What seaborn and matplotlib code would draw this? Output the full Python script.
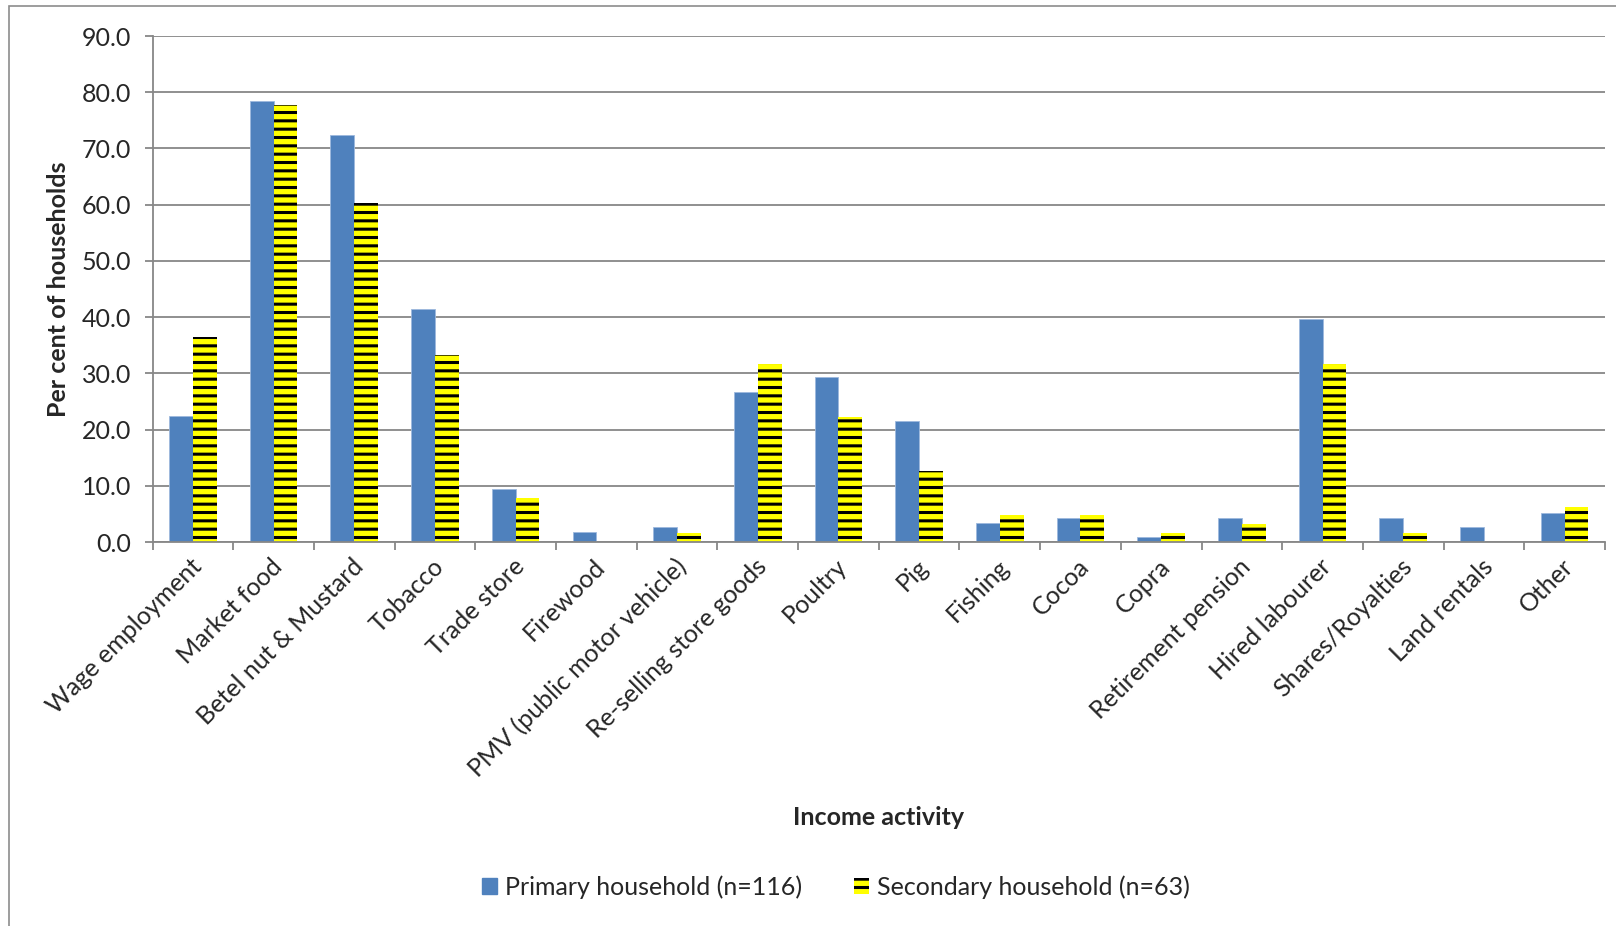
import matplotlib
matplotlib.use("Agg")
import matplotlib.pyplot as plt
import matplotlib.patches as mpatches
import matplotlib.transforms as mtrans
import seaborn as sns
import pandas as pd

categories = ["Wage employment", "Market food", "Betel nut & Mustard", "Tobacco",
              "Trade store", "Firewood", "PMV (public motor vehicle)",
              "Re-selling store goods", "Poultry", "Pig", "Fishing", "Cocoa",
              "Copra", "Retirement pension", "Hired labourer", "Shares/Royalties",
              "Land rentals", "Other"]
primary = [22.4, 78.4, 72.4, 41.4, 9.5, 1.7, 2.6, 26.7, 29.3, 21.6, 3.4, 4.3,
           0.9, 4.3, 39.7, 4.3, 2.6, 5.2]
secondary = [36.5, 77.8, 60.3, 33.3, 7.9, 0.0, 1.6, 31.7, 22.2, 12.7, 4.8, 4.8,
             1.6, 3.2, 31.7, 1.6, 0.0, 6.3]
series_names = ["Primary household (n=116)", "Secondary household (n=63)"]
y_ticks = [0, 10, 20, 30, 40, 50, 60, 70, 80, 90]

df = pd.DataFrame({
    "activity": categories * 2,
    "value": primary + secondary,
    "series": [series_names[0]] * len(categories) + [series_names[1]] * len(categories),
})

sns.set_style("white")
plt.rcParams["font.family"] = ["Lato", "DejaVu Sans"]
plt.rcParams["hatch.linewidth"] = 2.2

W, H = 1616, 926
FS = 18
fig = plt.figure(figsize=(W / 100, H / 100), dpi=100)
ax = fig.add_axes([152.5 / W, 1 - 542 / H, (1605 - 152.5) / W, (542 - 36) / H])

blue = "#4F81BD"
yellow = "#FFFF00"
sns.barplot(data=df, x="activity", y="value", hue="series", order=categories,
            hue_order=series_names, palette=[blue, yellow], width=0.59,
            saturation=1, ax=ax, legend=False, errorbar=None)

for p in ax.containers[0]:
    p.set_edgecolor("#9DB9DD")
    p.set_linewidth(0.6)
for p in ax.containers[1]:
    p.set_hatch("--")
    p.set_edgecolor("black")
    p.set_linewidth(0)

grid_c = "#878787"
ax.set_ylim(0, 90)
ax.set_xlim(-0.5, len(categories) - 0.5)
ax.set_yticks(y_ticks)
ax.set_yticklabels([f"{v:.1f}" for v in y_ticks], fontsize=FS)
ax.yaxis.grid(True, color=grid_c, linewidth=1.3)
ax.set_axisbelow(True)
for s in ["top", "right"]:
    ax.spines[s].set_visible(False)
for s in ["left", "bottom"]:
    ax.spines[s].set_color(grid_c)
    ax.spines[s].set_linewidth(1.3)
ax.tick_params(axis="y", length=5.5, width=1.3, color=grid_c, direction="out", pad=10, left=True)

# x ticks: labels at centres, tick marks at boundaries
ax.set_xticks(range(len(categories)))
ax.set_xticklabels(categories, rotation=45, ha="right", rotation_mode="anchor", fontsize=FS)
ax.tick_params(axis="x", length=0, pad=9)
ax.set_xticks([i - 0.5 for i in range(len(categories) + 1)], minor=True)
ax.tick_params(axis="x", which="minor", length=5.5, width=1.3, color=grid_c, direction="out", bottom=True)
off = mtrans.ScaledTranslation(-3 / 100, 0, fig.dpi_scale_trans)
for lab in ax.get_xticklabels():
    lab.set_transform(lab.get_transform() + off)

ax.set_xlabel("Income activity", fontsize=FS, fontweight="bold", labelpad=0)
ax.xaxis.set_label_coords(0.5, -(806 - 542) / (542 - 36), transform=ax.transAxes)
ax.set_ylabel("Per cent of households", fontsize=FS, fontweight="bold")
ax.yaxis.set_label_coords((70 - 152.5) / (1605 - 152.5), 0.5)

handles = [mpatches.Patch(facecolor=blue, edgecolor=blue),
           mpatches.Patch(facecolor=yellow, edgecolor="black", hatch="--", linewidth=0)]
fig.legend(handles, series_names, loc="center", bbox_to_anchor=(836 / W, 1 - 887 / H),
           ncol=2, frameon=False, fontsize=FS, handlelength=0.6, handleheight=0.6,
           handletextpad=0.3, columnspacing=2.1)

border = mpatches.Rectangle((9 / W, -0.05), 1.2, 1 - 6 / H + 0.05, transform=fig.transFigure,
                            fill=False, edgecolor="#8C8C8C", linewidth=1.2)
fig.patches.append(border)

fig.savefig("out.png", dpi=100)
